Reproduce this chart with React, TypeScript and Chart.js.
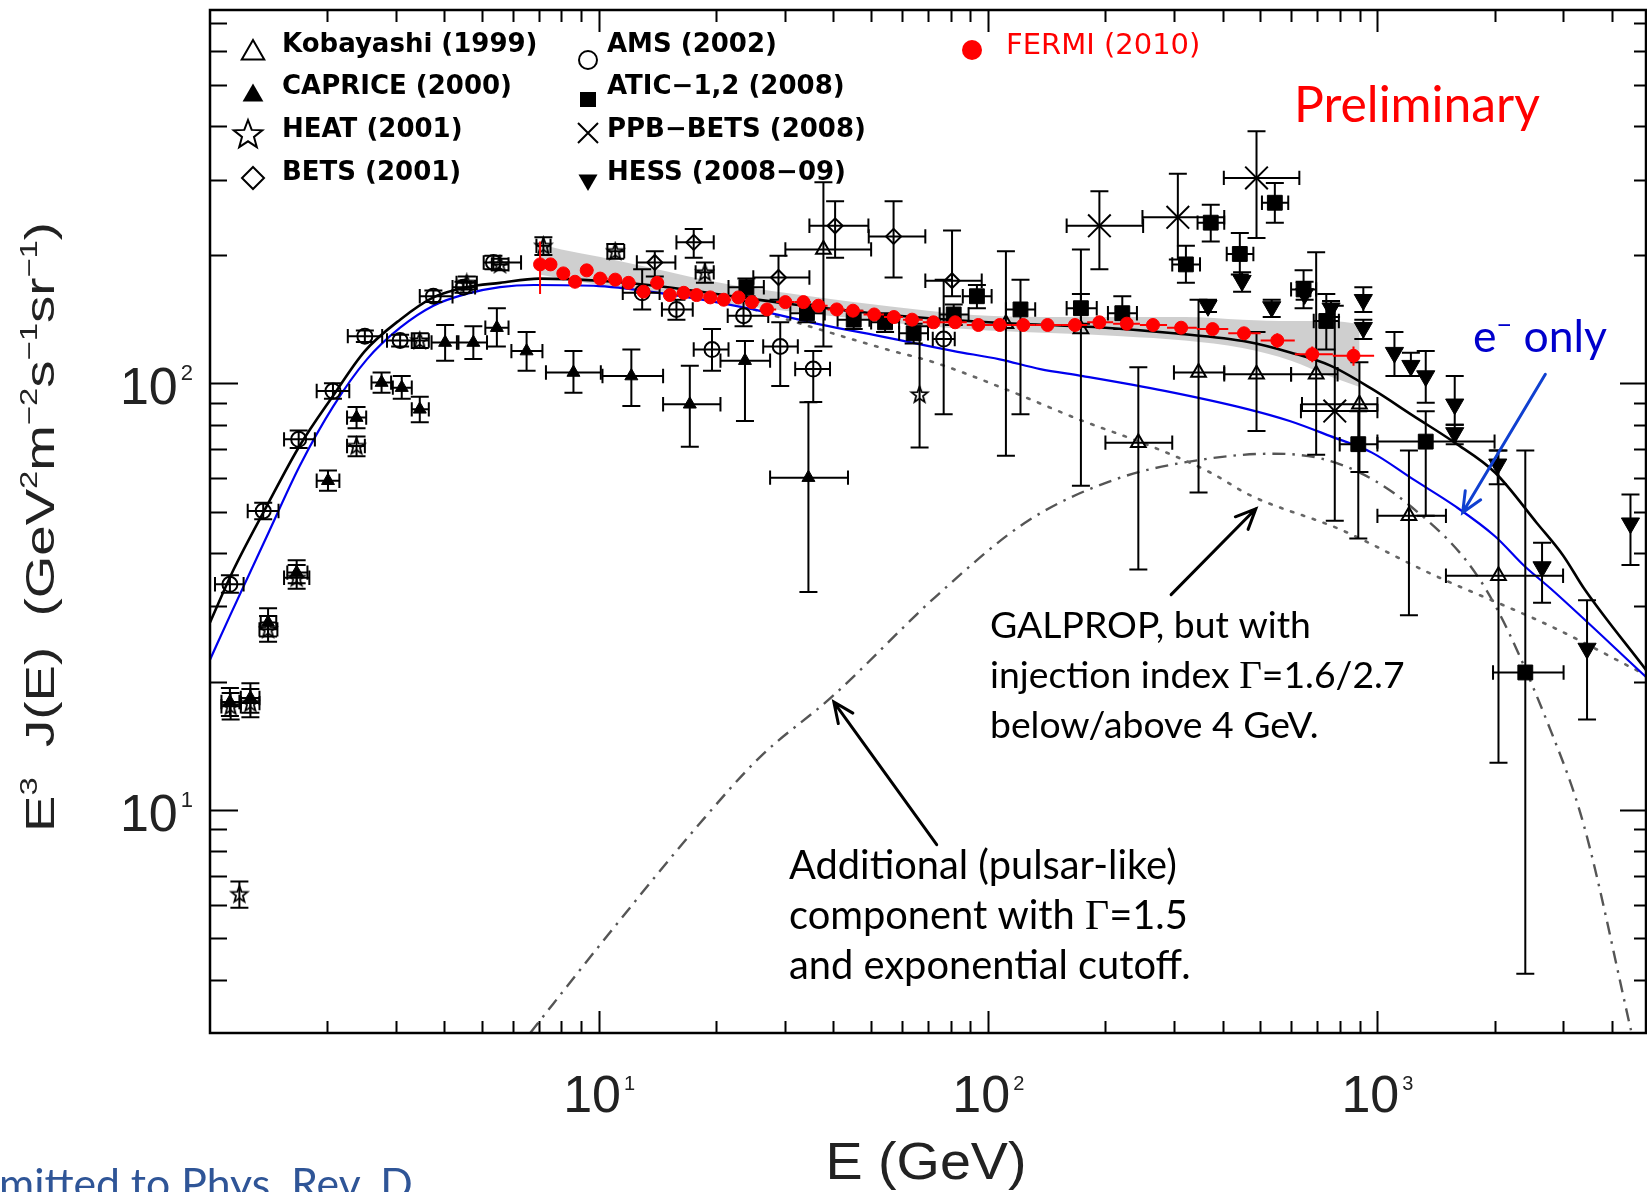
import React, { useEffect, useRef } from 'react';
import { Chart, registerables } from 'chart.js';

Chart.register(...registerables);

const W = 1647;
const H = 1192;

// ---------------- axes ----------------
const X_MIN = 1;
const X_MAX = 4900;
const Y_MIN = 3;
const Y_MAX = 750;
const X_TICK_VALUES = [10, 100, 1000];
const X_TICK_EXPONENTS = ['1', '2', '3'];
const Y_TICK_VALUES = [10, 100];
const Y_TICK_EXPONENTS = ['1', '2'];

// ---------------- experiments: [E, E3J, Elo, Ehi, E3Jlo, E3Jhi] ----------------
const KOBAYASHI = [
  [37.7, 206, 30.1, 50, 122, 296],
  [111, 138, 111, 111, 67.6, 204],
  [173, 134, 173, 173, 57.5, 206],
  [243, 72.6, 200, 297, 36.6, 109],
  [347, 106, 300, 404, 55.5, 157],
  [489, 105, 404, 600, 77.3, 132],
  [696, 105, 600, 790, 68, 203],
  [899, 89.3, 640, 1000, 62, 112],
  [1205, 48.9, 1000, 1500, 28.6, 69.6],
  [2047, 35.4, 1500, 3000, 12.9, 69.6],
];

const CAPRICE = [
  [1.125, 17.9, 1.07, 1.19, 16.6, 19.3],
  [1.27, 18.3, 1.2, 1.34, 16.9, 19.8],
  [1.41, 27.5, 1.35, 1.48, 25.5, 29.7],
  [1.67, 36.0, 1.58, 1.78, 34, 38.5],
  [2.01, 59.1, 1.88, 2.15, 56, 62.5],
  [2.38, 83.1, 2.25, 2.52, 78.5, 88],
  [2.76, 100.4, 2.6, 2.92, 95, 106],
  [3.11, 97.7, 2.95, 3.3, 92, 104],
  [3.46, 86.9, 3.3, 3.65, 81, 93],
  [4.02, 124.6, 3.71, 4.31, 113, 137],
  [4.75, 124.6, 4.35, 5.15, 114, 136],
  [5.46, 135, 5.1, 5.85, 122, 150],
  [6.51, 119, 5.95, 7.15, 107, 132],
  [8.59, 106, 7.3, 10.1, 95, 119],
  [12.1, 104, 10.2, 14.6, 88.5, 120],
  [17.1, 89.3, 14.6, 20.5, 71, 110],
  [23.7, 113, 20.5, 27.5, 81.6, 125.6],
  [34.5, 60.1, 27.5, 43.6, 32.4, 90.3],
];

const HEAT = [
  [1.19, 6.35, 1.19, 1.19, 5.9, 6.8],
  [1.13, 17.5, 1.07, 1.2, 16.3, 18.8],
  [1.27, 17.8, 1.2, 1.34, 16.5, 19.2],
  [1.41, 26.5, 1.34, 1.49, 24.8, 28.5],
  [1.67, 35, 1.55, 1.8, 33, 37.5],
  [2.38, 71.3, 2.25, 2.5, 67.5, 75],
  [3.46, 126, 3.3, 3.65, 121, 131],
  [4.57, 172, 4.3, 4.85, 166, 178],
  [5.56, 190, 5.3, 5.85, 184, 196],
  [7.19, 210, 6.9, 7.5, 200, 220],
  [11.0, 204, 10.5, 11.6, 196, 212],
  [18.7, 182, 17.7, 19.7, 172, 192],
  [66.6, 94.2, 66.6, 66.6, 70.7, 136],
];

const BETS = [
  [13.9, 192, 12.5, 15.7, 178, 204],
  [17.5, 214, 15.8, 19.7, 197, 230],
  [28.9, 177, 24.9, 34.7, 157, 199],
  [40.4, 234, 34.7, 49.2, 197, 267],
  [57.1, 221, 49.3, 68.9, 177, 267],
  [80.7, 174, 68.9, 96.2, 160, 228],
];

const AMS = [
  [1.125, 33.8, 1.03, 1.22, 32.3, 35.5],
  [1.37, 50.2, 1.25, 1.5, 48, 52.5],
  [1.69, 73.9, 1.55, 1.86, 70.5, 77.5],
  [2.07, 95.9, 1.88, 2.28, 92, 100],
  [2.5, 129, 2.26, 2.77, 125, 133],
  [3.08, 126, 2.85, 3.35, 122, 130],
  [3.75, 160, 3.46, 4.2, 155, 165],
  [4.48, 168, 4.2, 4.8, 163, 173],
  [5.35, 192, 5.05, 6.3, 185, 199],
  [12.9, 163, 11.5, 14.3, 149, 185],
  [15.8, 149, 14.5, 17.4, 141, 157],
  [19.5, 120, 17.5, 21.5, 107, 134],
  [23.5, 144, 21.4, 27.2, 136, 156],
  [29.2, 122, 26.4, 32.4, 98.6, 139],
  [35.5, 108, 31.9, 39.2, 90.4, 119],
  [76.8, 127, 72, 82, 84.6, 175],
];

const ATIC = [
  [23.9, 168, 21.5, 26.5, 160, 176],
  [34.2, 146, 31, 38, 139, 153],
  [45.1, 141, 41, 49.5, 134, 148],
  [54.3, 139, 50, 59, 132, 146],
  [64.3, 131, 59, 70, 124, 138],
  [81.5, 145, 75, 89, 137, 153],
  [93.5, 160, 86, 102, 150, 170],
  [121, 149, 111, 132, 84.6, 175],
  [173, 150, 159, 190, 138, 162],
  [221, 146, 203, 241, 134, 160],
  [322, 190, 297, 350, 172, 210],
  [373, 238, 345, 404, 215, 262],
  [443, 201, 410, 480, 180, 225],
  [545, 265, 505, 590, 238, 295],
  [646, 166, 600, 696, 150, 184],
  [739, 140, 686, 796, 120, 162],
  [893, 72, 800, 1000, 43.3, 86],
  [1331, 73, 1000, 2000, 48.9, 86],
  [2399, 21, 1982, 3009, 4.13, 69.6],
];

const PPB_BETS = [
  [193, 234, 159, 250, 185, 282],
  [307, 245, 249, 404, 195, 310],
  [489, 303, 403, 630, 219, 390],
  [777, 86.1, 636, 1000, 47.6, 152],
];

const HESS = [
  [367, 152, 367, 367, 147, 157],
  [449, 174, 449, 449, 164, 182],
  [535, 151, 535, 535, 143, 157],
  [650, 162, 650, 650, 157, 173],
  [760, 150, 760, 760, 143, 156],
  [920, 157, 920, 920, 147, 168],
  [920, 135, 920, 920, 127, 141],
  [1106, 118, 1106, 1106, 104, 132],
  [1219, 110, 1219, 1219, 104, 118],
  [1331, 104, 1331, 1331, 90, 119],
  [1580, 89.3, 1580, 1580, 80, 104],
  [1580, 76.5, 1580, 1580, 72, 80],
  [2038, 64.6, 2038, 2038, 58, 69.6],
  [2649, 37.1, 2649, 2649, 30.6, 42.3],
  [3457, 23.9, 3457, 3457, 16.3, 31],
  [4470, 47, 4470, 4470, 37.5, 54.9],
];

// FERMI: [E, E3J, E3Jlo, E3Jhi]
const FERMI = [
  [7.05, 190, 162, 215], [7.5, 190, 186, 194], [8.09, 181, 177, 185], [8.67, 173, 169, 177],
  [9.29, 184, 180, 188], [10.06, 176, 172, 180], [11.0, 175, 171, 179], [11.9, 172, 168, 176],
  [13.0, 164, 160, 168], [14.1, 172, 168, 176], [15.2, 161, 157, 165], [16.5, 163, 159, 167],
  [17.8, 161, 157, 165], [19.3, 159, 155, 163], [20.9, 157, 153, 161], [22.8, 159, 155, 163],
  [24.7, 155, 151, 159], [27.0, 149, 145, 153], [30.1, 155, 151, 159], [33.5, 155, 151, 159],
  [36.6, 152, 148, 156], [40.8, 149, 145, 153], [44.9, 148, 144, 152], [50.9, 145, 141, 149],
  [57.2, 143, 139, 147], [63.7, 141, 137, 145], [72.3, 139, 135, 143], [82.2, 139, 135, 143],
  [94.3, 137, 133, 141], [107, 137, 133, 141], [123, 137, 133, 141], [142, 137, 133, 141],
  [167, 137, 133, 141], [193, 139, 135, 143], [227, 138, 134, 142], [265, 137, 133, 141],
  [313, 135, 131, 139], [377, 134, 130, 138], [454, 131, 127, 135], [553, 126, 121, 131],
  [680, 117, 112, 122], [868, 116, 110, 122],
];

const FERMI_BAND_E = [7, 8, 10, 13, 17, 22, 30, 45, 70, 100, 150, 220, 320, 450, 600, 750, 900];
const FERMI_BAND_HI = [212, 206, 198, 188, 178, 170, 163, 155, 148, 144, 143, 143, 143, 141, 140, 140, 138];
const FERMI_BAND_LO = [180, 176, 170, 164, 158, 153, 148, 142, 136, 133, 131, 129, 126, 121, 113, 104, 98];

// ---------------- model curves ----------------
const TOTAL_E = [1, 1.15, 1.4, 1.7, 2.07, 2.5, 3.08, 3.75, 4.56, 5.56, 7, 10, 15, 20, 30, 50, 100, 200, 300, 466, 600, 757, 968, 1234, 1580, 2005, 2571, 3000, 3400, 4900];
const TOTAL_V = [27.5, 36.6, 51.6, 71.4, 93.4, 119, 141, 159, 168, 172, 176, 174, 168, 162, 154, 146, 139, 135, 131, 125, 118, 110, 97, 84, 72.6, 61.8, 47, 39.5, 33, 21.3];

const ELECTRON_E = [1, 1.125, 1.4, 1.7, 2.075, 2.53, 3.08, 3.75, 4.56, 5.56, 6.8, 10, 14.9, 24.9, 36.9, 55, 81.6, 107, 136, 175, 284, 466, 595, 757, 968, 1234, 1580, 2005, 2386, 2800, 4900];
const ELECTRON_V = [22.5, 28.5, 43.8, 64, 88.4, 113.8, 135, 152, 162, 168, 170, 169, 162, 149, 137.5, 128, 119, 113.8, 108, 104, 96, 86.9, 81.6, 75.2, 68.8, 59.6, 51.6, 43.8, 37.3, 32.9, 20.5];

const GALPROP_E = [25, 39.2, 55, 73, 111, 171, 261, 372, 474, 800, 1370, 2800, 4900];
const GALPROP_V = [149, 131.5, 120, 111.8, 96.8, 82.3, 71.3, 61.8, 54.5, 45.5, 35.8, 26.9, 20.7];

const PULSAR_E = [6.65, 10, 18.2, 25.9, 39.6, 74.9, 126, 215, 364, 541, 802, 1202, 1885, 2800, 3393, 4500];
const PULSAR_V = [3.0, 4.8, 9.33, 13.3, 18.4, 32.2, 47.5, 59.8, 66.5, 68.4, 64.6, 52, 33.3, 15.2, 9.2, 3.0];

// annotation arrows, endpoints in data space [E, E3J]
const ARROW_FROM = [[2701, 105], [295, 31.97], [73.7, 8.29]];
const ARROW_TO = [[1656, 49.8], [487, 50.8], [40.1, 17.9]];
const ARROW_COLORS = ['#1040d0', '#000000', '#000000'];

const LEGEND_LABELS = [
  'Kobayashi (1999)', 'CAPRICE (2000)', 'HEAT (2001)', 'BETS (2001)',
  'AMS (2002)', 'ATIC\u22121,2 (2008)', 'PPB\u2212BETS (2008)', 'HESS (2008\u221209)', 'FERMI (2010)',
];
const LEGEND_SYMBOLS = ['triOpen', 'triFill', 'star', 'diamond', 'circle', 'square', 'cross', 'triDown', 'redDot'];

// ---------------- helpers ----------------
function starPath(ctx: any, cx: number, cy: number, R: number, r: number) {
  ctx.beginPath();
  for (let k = 0; k < 10; k++) {
    const ang = -Math.PI / 2 + (k * Math.PI) / 5;
    const rad = k % 2 === 0 ? R : r;
    const px = cx + rad * Math.cos(ang);
    const py = cy + rad * Math.sin(ang);
    if (k === 0) ctx.moveTo(px, py);
    else ctx.lineTo(px, py);
  }
  ctx.closePath();
}

function makeStarImage(R: number) {
  const size = Math.ceil(2 * R + 4);
  const c = document.createElement('canvas');
  c.width = size;
  c.height = size;
  const g = c.getContext('2d') as CanvasRenderingContext2D;
  g.strokeStyle = '#000';
  g.lineWidth = 1.8;
  starPath(g, size / 2, size / 2 + 0.5, R, R * 0.42);
  g.stroke();
  return c;
}

function triPath(ctx: any, x: number, y: number, r: number, down: boolean) {
  const s = down ? -1 : 1;
  ctx.beginPath();
  ctx.moveTo(x, y - s * r);
  ctx.lineTo(x + r * 0.866, y + (s * r) / 2);
  ctx.lineTo(x - r * 0.866, y + (s * r) / 2);
  ctx.closePath();
}

function drawSymbol(ctx: any, sym: string, x: number, y: number) {
  ctx.save();
  ctx.lineWidth = 2;
  ctx.strokeStyle = '#000';
  ctx.fillStyle = '#000';
  if (sym === 'triOpen') { triPath(ctx, x, y, 13, false); ctx.stroke(); }
  else if (sym === 'triFill') { triPath(ctx, x, y, 12, false); ctx.fill(); }
  else if (sym === 'triDown') { triPath(ctx, x, y, 11, true); ctx.fill(); }
  else if (sym === 'star') { starPath(ctx, x, y, 15, 6.3); ctx.stroke(); }
  else if (sym === 'diamond') {
    ctx.beginPath(); ctx.moveTo(x, y - 11); ctx.lineTo(x + 11, y); ctx.lineTo(x, y + 11); ctx.lineTo(x - 11, y); ctx.closePath(); ctx.stroke();
  } else if (sym === 'circle') { ctx.beginPath(); ctx.arc(x, y, 9, 0, Math.PI * 2); ctx.stroke(); }
  else if (sym === 'square') { ctx.fillRect(x - 8, y - 7.5, 16, 15); }
  else if (sym === 'cross') {
    ctx.beginPath(); ctx.moveTo(x - 10, y - 10); ctx.lineTo(x + 10, y + 10); ctx.moveTo(x + 10, y - 10); ctx.lineTo(x - 10, y + 10); ctx.stroke();
  } else if (sym === 'redDot') { ctx.fillStyle = '#ff0000'; ctx.beginPath(); ctx.arc(x, y, 10, 0, Math.PI * 2); ctx.fill(); }
  ctx.restore();
}

type Seg = { t: string; font: string; dy?: number };
function segWidth(ctx: any, segs: Seg[]) {
  let w = 0;
  for (const s of segs) { ctx.font = s.font; w += ctx.measureText(s.t).width; }
  return w;
}
function drawSegs(ctx: any, segs: Seg[], x: number, y: number) {
  let cx = x;
  for (const s of segs) {
    ctx.font = s.font;
    ctx.fillText(s.t, cx, y + (s.dy || 0));
    cx += ctx.measureText(s.t).width;
  }
}
function fitSize(ctx: any, text: string, family: string, target: number) {
  ctx.font = `100px ${family}`;
  return (100 * target) / ctx.measureText(text).width;
}

function arrow(ctx: any, x1: number, y1: number, x2: number, y2: number, color: string) {
  const head = 22;
  const ang = 0.42;
  const t = Math.atan2(y2 - y1, x2 - x1);
  ctx.save();
  ctx.strokeStyle = color;
  ctx.lineWidth = 3;
  ctx.lineCap = 'round';
  ctx.beginPath();
  ctx.moveTo(x1, y1);
  ctx.lineTo(x2, y2);
  ctx.moveTo(x2 - head * Math.cos(t - ang), y2 - head * Math.sin(t - ang));
  ctx.lineTo(x2, y2);
  ctx.lineTo(x2 - head * Math.cos(t + ang), y2 - head * Math.sin(t + ang));
  ctx.stroke();
  ctx.restore();
}

// ---------------- plugins ----------------
const errorBarPlugin = {
  id: 'errorBars',
  beforeDatasetDraw(chart: any, args: any) {
    const ds: any = chart.data.datasets[args.index];
    if (!ds.errBars) return;
    const { ctx, chartArea: a } = chart;
    const xs = chart.scales.x;
    const ys = chart.scales.y;
    ctx.save();
    ctx.beginPath();
    ctx.rect(a.left, a.top, a.right - a.left, a.bottom - a.top);
    ctx.clip();
    ctx.strokeStyle = ds.errColor || '#000';
    ctx.lineWidth = ds.errWidth || 2;
    const cap = ds.errCap === undefined ? 9 : ds.errCap;
    ds.errBars.forEach((e: number[], i: number) => {
      const p = ds.data[i];
      const x = xs.getPixelForValue(p.x);
      const y = ys.getPixelForValue(p.y);
      const [elo, ehi, vlo, vhi] = e;
      ctx.beginPath();
      if (ehi > elo) {
        const x1 = xs.getPixelForValue(elo);
        const x2 = xs.getPixelForValue(ehi);
        ctx.moveTo(x1, y); ctx.lineTo(x2, y);
        if (cap) { ctx.moveTo(x1, y - cap * 0.8); ctx.lineTo(x1, y + cap * 0.8); ctx.moveTo(x2, y - cap * 0.8); ctx.lineTo(x2, y + cap * 0.8); }
      }
      if (vhi > vlo) {
        const y1 = ys.getPixelForValue(vlo);
        const y2 = ys.getPixelForValue(vhi);
        ctx.moveTo(x, y1); ctx.lineTo(x, y2);
        if (cap) { ctx.moveTo(x - cap, y1); ctx.lineTo(x + cap, y1); ctx.moveTo(x - cap, y2); ctx.lineTo(x + cap, y2); }
      }
      ctx.stroke();
    });
    ctx.restore();
  },
};

const SANS = '"Liberation Sans", Arial, sans-serif';
const LATO = 'Lato, "Open Sans", sans-serif';
const SERIF = '"Liberation Serif", "Times New Roman", serif';
const LEG = '"DejaVu Sans", sans-serif';

const decorPlugin = {
  id: 'decor',
  afterDraw(chart: any) {
    const { ctx, chartArea: a } = chart;
    const xs = chart.scales.x;
    const ys = chart.scales.y;
    ctx.save();
    ctx.fillStyle = '#000';
    ctx.strokeStyle = '#000';

    // ticks
    const xMinor: number[] = [];
    for (let d = 1; d < X_MAX; d *= 10) for (let k = 2; k <= 9; k++) if (k * d < X_MAX) xMinor.push(k * d);
    const yMinor: number[] = [];
    for (let d = 1; d < Y_MAX; d *= 10) for (let k = 2; k <= 9; k++) if (k * d > Y_MIN && k * d < Y_MAX) yMinor.push(k * d);
    ctx.lineWidth = 2;
    ctx.beginPath();
    const xt = (v: number, len: number) => {
      const x = Math.round(xs.getPixelForValue(v)) + 0.5;
      ctx.moveTo(x, a.bottom); ctx.lineTo(x, a.bottom - len);
      ctx.moveTo(x, a.top); ctx.lineTo(x, a.top + len);
    };
    const yt = (v: number, lenL: number, lenR: number) => {
      const y = Math.round(ys.getPixelForValue(v)) + 0.5;
      ctx.moveTo(a.left, y); ctx.lineTo(a.left + lenL, y);
      ctx.moveTo(a.right, y); ctx.lineTo(a.right - lenR, y);
    };
    X_TICK_VALUES.forEach((v) => xt(v, 22));
    xMinor.forEach((v) => xt(v, 12));
    Y_TICK_VALUES.forEach((v) => yt(v, 28, 26));
    yMinor.forEach((v) => yt(v, 17, 12));
    ctx.stroke();

    // frame
    ctx.lineWidth = 2.5;
    ctx.strokeRect(a.left, a.top, a.right - a.left, a.bottom - a.top);

    // tick labels
    ctx.fillStyle = '#222';
    ctx.textBaseline = 'alphabetic';
    ctx.textAlign = 'left';
    X_TICK_VALUES.forEach((v, i) => {
      const x = xs.getPixelForValue(v);
      ctx.font = `52px ${SANS}`;
      const w10 = ctx.measureText('10').width;
      ctx.font = `20px ${SANS}`;
      const ws = ctx.measureText(X_TICK_EXPONENTS[i]).width;
      const start = x - (w10 + 3 + ws) / 2;
      ctx.font = `52px ${SANS}`;
      ctx.fillText('10', start, a.bottom + 79);
      ctx.font = `20px ${SANS}`;
      ctx.fillText(X_TICK_EXPONENTS[i], start + w10 + 3, a.bottom + 57);
    });
    Y_TICK_VALUES.forEach((v, i) => {
      const y = ys.getPixelForValue(v);
      ctx.font = `52px ${SANS}`;
      const w10 = ctx.measureText('10').width;
      ctx.font = `22px ${SANS}`;
      const ws = ctx.measureText(Y_TICK_EXPONENTS[i]).width;
      const start = a.left - 17 - (w10 + 3 + ws);
      ctx.font = `52px ${SANS}`;
      ctx.fillText('10', start, y + 21);
      ctx.font = `22px ${SANS}`;
      ctx.fillText(Y_TICK_EXPONENTS[i], start + w10 + 3, y - 3);
    });

    // x title
    ctx.save();
    ctx.font = `52px ${SANS}`;
    const xtW = ctx.measureText('E (GeV)').width;
    ctx.translate(926, a.bottom + 146);
    ctx.scale(201 / xtW, 1);
    ctx.textAlign = 'center';
    ctx.fillText('E (GeV)', 0, 0);
    ctx.restore();

    // y title
    ctx.save();
    const base = `40px ${SANS}`;
    const sup = `24px ${SANS}`;
    const ySegs: Seg[] = [
      { t: 'E', font: base }, { t: '3', font: sup, dy: -17 }, { t: '  J(E)  (GeV', font: base },
      { t: '2', font: sup, dy: -17 }, { t: 'm', font: base }, { t: '\u22122', font: sup, dy: -17 },
      { t: 's', font: base }, { t: '\u22121', font: sup, dy: -17 }, { t: 'sr', font: base },
      { t: '\u22121', font: sup, dy: -17 }, { t: ')', font: base },
    ];
    const ytW = segWidth(ctx, ySegs);
    ctx.translate(54, 527);
    ctx.rotate(-Math.PI / 2);
    ctx.scale(610 / ytW, 1);
    ctx.textAlign = 'left';
    drawSegs(ctx, ySegs, -ytW / 2, 0);
    ctx.restore();

    // legend
    ctx.fillStyle = '#000';
    ctx.textBaseline = 'middle';
    ctx.textAlign = 'left';
    const rowsY = [45, 87.5, 130, 173];
    const symDy = [8, 8, 5, 5, 15, 12, 3, 7];
    LEGEND_LABELS.forEach((label, i) => {
      const sym = LEGEND_SYMBOLS[i];
      if (sym === 'redDot') {
        drawSymbol(ctx, sym, 972, 50);
        ctx.fillStyle = '#ff0000';
        ctx.font = `29px ${LEG}`;
        ctx.fillText(label, 1006, 46);
        ctx.fillStyle = '#000';
        return;
      }
      const col = i < 4 ? 0 : 1;
      const row = i % 4;
      const sx = col === 0 ? (sym === 'star' ? 248 : 253) : 588;
      drawSymbol(ctx, sym, sx, rowsY[row] + symDy[i]);
      ctx.font = `bold 26px ${LEG}`;
      ctx.fillText(label, col === 0 ? 282 : 607, rowsY[row]);
    });

    // arrows
    ARROW_FROM.forEach((f, i) => {
      const t = ARROW_TO[i];
      arrow(ctx, xs.getPixelForValue(f[0]), ys.getPixelForValue(f[1]), xs.getPixelForValue(t[0]), ys.getPixelForValue(t[1]), ARROW_COLORS[i]);
    });

    // annotations
    ctx.textBaseline = 'alphabetic';
    ctx.textAlign = 'left';
    const s1 = fitSize(ctx, 'GALPROP, but with', LATO, 321);
    const f1 = `${s1}px ${LATO}`;
    const g1 = `${s1 * 1.05}px ${SERIF}`;
    ctx.fillStyle = '#000';
    drawSegs(ctx, [{ t: 'GALPROP, but with', font: f1 }], 990, 638);
    drawSegs(ctx, [{ t: 'injection index ', font: f1 }, { t: '\u0393', font: g1 }, { t: '=1.6/2.7', font: f1 }], 990, 688);
    drawSegs(ctx, [{ t: 'below/above 4 GeV.', font: f1 }], 990, 738);

    const s2 = fitSize(ctx, 'Additional (pulsar-like)', LATO, 388);
    const f2 = `${s2}px ${LATO}`;
    const g2 = `${s2 * 1.05}px ${SERIF}`;
    drawSegs(ctx, [{ t: 'Additional (pulsar-like)', font: f2 }], 789, 879);
    drawSegs(ctx, [{ t: 'component with ', font: f2 }, { t: '\u0393', font: g2 }, { t: '=1.5', font: f2 }], 789, 929);
    drawSegs(ctx, [{ t: 'and exponential cutoff.', font: f2 }], 789, 979);

    const s3 = fitSize(ctx, 'Preliminary', LATO, 246);
    ctx.fillStyle = '#ff0000';
    ctx.font = `${s3}px ${LATO}`;
    ctx.fillText('Preliminary', 1294, 122);

    ctx.fillStyle = '#0000cc';
    const s4base = 44;
    const eSegs = (s: number): Seg[] => [
      { t: 'e', font: `${s}px ${LATO}` },
      { t: '\u2212', font: `${s * 0.6}px ${LATO}`, dy: -s * 0.4 },
      { t: ' only', font: `${s}px ${LATO}` },
    ];
    const s4 = (s4base * 134) / segWidth(ctx, eSegs(s4base));
    drawSegs(ctx, eSegs(s4), 1473, 352);

    // footer (partially outside the page, as in the slide)
    const s5 = fitSize(ctx, 'mitted to Phys. Rev. D', LATO, 414);
    ctx.font = `${s5}px ${LATO}`;
    const subW = ctx.measureText('Sub').width;
    ctx.fillStyle = '#2f5597';
    ctx.fillText('Submitted to Phys. Rev. D', -subW - 1, 1199);

    ctx.restore();
  },
};

// ---------------- chart ----------------
const pts = (rows: number[][]) => rows.map((r) => ({ x: r[0], y: r[1] }));
const errs = (rows: number[][]) => rows.map((r) => [r[2], r[3], r[4], r[5]]);
const curve = (E: number[], V: number[]) => E.map((e, i) => ({ x: e, y: V[i] }));

function fermiErrors() {
  return FERMI.map((r, i) => {
    const prev = FERMI[i - 1];
    const next = FERMI[i + 1];
    const lo = prev ? Math.sqrt(prev[0] * r[0]) : (r[0] * r[0]) / Math.sqrt(r[0] * next[0]);
    const hi = next ? Math.sqrt(next[0] * r[0]) : (r[0] * r[0]) / Math.sqrt(r[0] * prev[0]);
    return [lo, hi, r[2], r[3]];
  });
}

export default function App() {
  const ref = useRef<HTMLCanvasElement>(null);
  useEffect(() => {
    const canvas = ref.current as HTMLCanvasElement;
    const star = makeStarImage(8.5);
    const open = 'rgba(0,0,0,0)';
    const expSet = (label: string, rows: number[][], style: any) => ({
      type: 'scatter',
      label,
      data: pts(rows),
      errBars: errs(rows),
      order: 1,
      pointBorderColor: '#000',
      pointBorderWidth: 2,
      ...style,
    });
    const lineSet = (label: string, E: number[], V: number[], style: any) => ({
      type: 'line',
      label,
      data: curve(E, V),
      pointRadius: 0,
      fill: false,
      cubicInterpolationMode: 'monotone',
      ...style,
    });
    const chart = new Chart(canvas, {
      type: 'scatter',
      data: {
        datasets: [
          {
            type: 'scatter',
            label: 'FERMI (2010)',
            data: FERMI.map((r) => ({ x: r[0], y: r[1] })),
            errBars: fermiErrors(),
            errColor: '#ff0000',
            errCap: 0,
            order: 0,
            pointStyle: 'circle',
            pointRadius: 6.5,
            pointBackgroundColor: '#ff0000',
            pointBorderColor: '#ff0000',
            pointBorderWidth: 1,
          } as any,
          expSet('Kobayashi (1999)', KOBAYASHI, { pointStyle: 'triangle', pointRadius: 8.5, pointBackgroundColor: open }),
          expSet('CAPRICE (2000)', CAPRICE, { pointStyle: 'triangle', pointRadius: 7.5, pointBackgroundColor: '#000', pointBorderWidth: 1 }),
          expSet('HEAT (2001)', HEAT, { pointStyle: star, pointRadius: 8 }),
          expSet('BETS (2001)', BETS, { pointStyle: 'rectRot', pointRadius: 7.5, pointBackgroundColor: open }),
          expSet('AMS (2002)', AMS, { pointStyle: 'circle', pointRadius: 7.5, pointBackgroundColor: open }),
          expSet('ATIC-1,2 (2008)', ATIC, { pointStyle: 'rect', pointRadius: 10.5, pointBackgroundColor: '#000', pointBorderWidth: 1 }),
          expSet('PPB-BETS (2008)', PPB_BETS, { pointStyle: 'crossRot', pointRadius: 16 }),
          expSet('HESS (2008-09)', HESS, { pointStyle: 'triangle', pointRotation: 180, pointRadius: 10.5, pointBackgroundColor: '#000', pointBorderWidth: 1 }),
          lineSet('total', TOTAL_E, TOTAL_V, { borderColor: '#000', borderWidth: 2.6, order: 3 }),
          lineSet('e- only', ELECTRON_E, ELECTRON_V, { borderColor: '#0000ee', borderWidth: 2.2, order: 4 }),
          lineSet('GALPROP', GALPROP_E, GALPROP_V, { borderColor: '#666', borderWidth: 2.6, borderDash: [2.5, 9], borderCapStyle: 'round', order: 5 }),
          lineSet('pulsar', PULSAR_E, PULSAR_V, { borderColor: '#555', borderWidth: 2.4, borderDash: [13, 7, 2.5, 7], order: 6 }),
          lineSet('band hi', FERMI_BAND_E, FERMI_BAND_HI, { borderWidth: 0, borderColor: 'rgba(0,0,0,0)', fill: '+1', backgroundColor: 'rgba(160,160,160,0.5)', order: 8 }),
          lineSet('band lo', FERMI_BAND_E, FERMI_BAND_LO, { borderWidth: 0, borderColor: 'rgba(0,0,0,0)', order: 9 }),
        ] as any,
      },
      options: {
        responsive: false,
        maintainAspectRatio: false,
        devicePixelRatio: 1,
        animation: false,
        events: [],
        layout: { autoPadding: false, padding: { left: 210, top: 10, right: W - 1646, bottom: H - 1033 } },
        scales: {
          x: { type: 'logarithmic', min: X_MIN, max: X_MAX, display: false },
          y: { type: 'logarithmic', min: Y_MIN, max: Y_MAX, display: false },
        },
        plugins: {
          legend: { display: false },
          tooltip: { enabled: false },
        },
      } as any,
      plugins: [errorBarPlugin, decorPlugin] as any,
    });
    return () => chart.destroy();
  }, []);

  return (
    <div style={{ position: 'fixed', left: 0, top: 0, width: W, height: H, background: '#fff' }}>
      <canvas ref={ref} width={W} height={H} style={{ width: W, height: H, display: 'block' }} />
    </div>
  );
}
